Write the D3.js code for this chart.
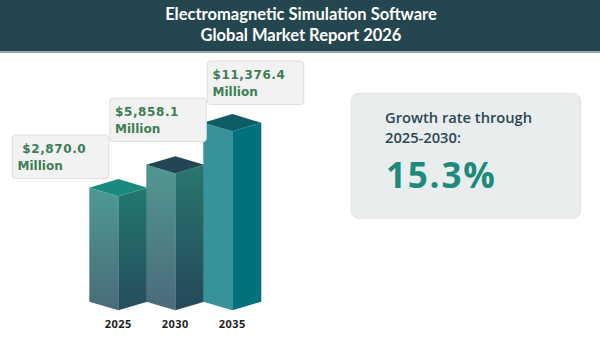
<!DOCTYPE html>
<html>
<head>
<meta charset="utf-8">
<script src="https://cdn.jsdelivr.net/npm/d3@7"></script>
<style>
  html, body { margin: 0; padding: 0; background: #ffffff; }
  svg { display: block; }
</style>
</head>
<body>
<svg id="chart" width="600" height="355"></svg>
<script>
// ---- data ----
const titleLines = ["Electromagnetic Simulation Software", "Global Market Report 2026"];
const years = ["2025", "2030", "2035"];
const values = [2870.0, 5858.1, 11376.4];
const valueLabels = [" $2,870.0", "$5,858.1", "$11,376.4"];
const unitLabel = "Million";
const growthLines = ["Growth rate through", "2025-2030:"];
const growthValue = "15.3%";

// ---- styles ----
const faceColors = [
  { top: "#1b8a7e", front: ["#4d9a93", "#4a6b79"], side: ["#22786f", "#264d5b"] },
  { top: "#244652", front: ["#519891", "#4b6a79"], side: ["#28776f", "#244859"] },
  { top: "#0e5c66", front: ["#38929b", "#38929b"], side: ["#01727b", "#01727b"] }
];

const svg = d3.select("#chart");
const defs = svg.append("defs");

// header
svg.append("rect").attr("x", 0).attr("y", 0).attr("width", 600).attr("height", 51.5).attr("fill", "#24464f");
svg.append("rect").attr("x", 0).attr("y", 51.5).attr("width", 600).attr("height", 1.5).attr("fill", "#93a7ad");
svg.selectAll("text.title").data(titleLines).join("text")
  .attr("class", "title")
  .attr("x", 301)
  .attr("y", (d, i) => 19.5 + i * 21.5)
  .attr("text-anchor", "middle")
  .attr("font-family", "Lato, 'Open Sans', sans-serif")
  .attr("font-weight", "bold")
  .attr("font-size", 16.5)
  .attr("fill", "#ffffff")
  .text(d => d);

// scales
const baseY = 301.7;
const x = d3.scalePoint().domain(years).range([118.3, 232.3]);
const y = d3.scaleLinear().domain([0, 11376.4]).range([baseY - 92.07, baseY - 179]);
const halfW = 29;
const dTop = 8.6;

// gradients
faceColors.forEach((c, i) => {
  ["front", "side"].forEach(f => {
    const g = defs.append("linearGradient").attr("id", `g-${f}-${i}`)
      .attr("x1", 0).attr("y1", 0).attr("x2", 0).attr("y2", 1);
    g.append("stop").attr("offset", "0%").attr("stop-color", c[f][0]);
    g.append("stop").attr("offset", "100%").attr("stop-color", c[f][1]);
  });
});

const bars = svg.append("g").selectAll("g.bar").data(years.map((yr, i) => ({ yr, v: values[i], i })))
  .join("g").attr("class", "bar");

bars.append("path") // front (left) face
  .attr("d", d => {
    const cx = x(d.yr), t = y(d.v);
    return `M${cx - halfW},${t} L${cx},${t + dTop} L${cx},${baseY + dTop} L${cx - halfW},${baseY} Z`;
  })
  .attr("fill", d => `url(#g-front-${d.i})`);

bars.append("path") // right face
  .attr("d", d => {
    const cx = x(d.yr), t = y(d.v);
    return `M${cx},${t + dTop} L${cx + halfW},${t} L${cx + halfW},${baseY} L${cx},${baseY + dTop} Z`;
  })
  .attr("fill", d => `url(#g-side-${d.i})`);

bars.append("path") // top
  .attr("d", d => {
    const cx = x(d.yr), t = y(d.v);
    return `M${cx - halfW},${t} L${cx},${t - dTop} L${cx + halfW},${t} L${cx},${t + dTop} Z`;
  })
  .attr("fill", d => faceColors[d.i].top);

// axis labels
svg.append("g").selectAll("text").data(years).join("text")
  .attr("x", d => x(d))
  .attr("y", 327.5)
  .attr("text-anchor", "middle")
  .attr("font-family", "'Open Sans', sans-serif")
  .attr("font-weight", "bold")
  .attr("font-size", 11)
  .attr("letter-spacing", 0.5)
  .attr("fill", "#1e1e1e")
  .text(d => d);

// callouts
const bx = d3.scalePoint().domain(years).range([12.3, 207.3]);
const by = d3.scalePoint().domain(years).range([135, 61]);
const callouts = svg.append("g").selectAll("g").data(years.map((yr, i) => ({ yr, i })))
  .join("g");
callouts.append("rect")
  .attr("x", d => bx(d.yr)).attr("y", d => by(d.yr))
  .attr("width", 96.5).attr("height", 43.5).attr("rx", 3)
  .attr("fill", "#f2f2f2").attr("stroke", "#dedede").attr("stroke-width", 1);
callouts.append("text")
  .attr("x", d => bx(d.yr) + 5.2).attr("y", d => by(d.yr) + 18.2)
  .style("white-space", "pre")
  .attr("font-family", "'DejaVu Sans', sans-serif").attr("font-weight", "bold")
  .attr("font-size", 12)
  .attr("letter-spacing", 0.6)
  .attr("fill", "#3c7e54")
  .text(d => valueLabels[d.i]);
callouts.append("text")
  .attr("x", d => bx(d.yr) + 5.2).attr("y", d => by(d.yr) + 35)
  .attr("font-family", "'DejaVu Sans', sans-serif").attr("font-weight", "bold")
  .attr("font-size", 12)
  .attr("fill", "#3c7e54")
  .text(unitLabel);

// growth box
svg.append("rect").attr("x", 351).attr("y", 93.3).attr("width", 229.7).attr("height", 125)
  .attr("rx", 8).attr("fill", "#e9edee").attr("stroke", "#e0e4e6");
svg.selectAll("text.gl").data(growthLines).join("text")
  .attr("class", "gl")
  .attr("x", 385).attr("y", (d, i) => 122.7 + i * 20.6)
  .attr("font-family", "'Open Sans', sans-serif").attr("font-weight", 600)
  .attr("font-size", 14.7)
  .attr("fill", "#2c4752")
  .text(d => d);
svg.append("text")
  .attr("x", 386).attr("y", 188)
  .attr("font-family", "'Open Sans', sans-serif").attr("font-weight", "bold")
  .attr("font-size", 35)
  .attr("letter-spacing", 1.8)
  .attr("fill", "#1d8a7c")
  .text(growthValue);
</script>
</body>
</html>
